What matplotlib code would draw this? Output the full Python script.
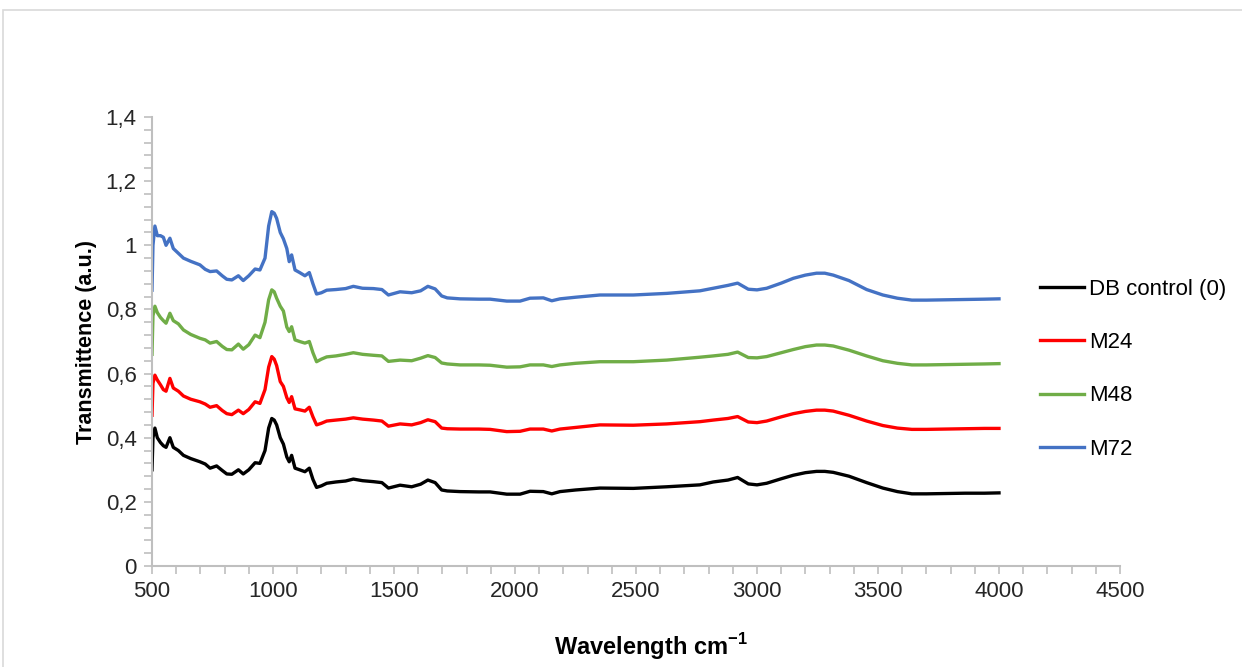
import matplotlib
matplotlib.use("Agg")
import matplotlib.pyplot as plt
from matplotlib.ticker import MultipleLocator, FuncFormatter
from matplotlib.patches import Rectangle

# Datos
wavenumber = [500, 504, 512, 522, 535, 547, 558, 574, 588, 609, 630, 660, 698, 720, 740, 767,
              790, 809, 830, 857, 877, 900, 926, 946, 967, 982, 995, 1005, 1015, 1030, 1043,
              1057, 1067, 1077, 1091, 1110, 1132, 1150, 1165, 1180, 1200, 1222, 1260, 1300,
              1332, 1370, 1415, 1450, 1477, 1525, 1573, 1610, 1640, 1670, 1697, 1720, 1773,
              1850, 1897, 1966, 2021, 2062, 2117, 2152, 2186, 2250, 2351, 2489, 2627, 2764,
              2819, 2880, 2920, 2964, 3000, 3040, 3100, 3150, 3200, 3246, 3280, 3315, 3380,
              3453, 3520, 3580, 3640, 3700, 3780, 3860, 3940, 4000]

db_control = [0.30, 0.40, 0.43, 0.40, 0.385, 0.375, 0.37, 0.40, 0.37, 0.36, 0.345, 0.335, 0.325,
              0.318, 0.305, 0.312, 0.298, 0.287, 0.286, 0.300, 0.287, 0.300, 0.322, 0.320, 0.36,
              0.43, 0.46, 0.455, 0.44, 0.40, 0.38, 0.34, 0.325, 0.345, 0.305, 0.30, 0.294, 0.305,
              0.27, 0.245, 0.25, 0.258, 0.262, 0.265, 0.271, 0.266, 0.263, 0.26, 0.243, 0.252,
              0.247, 0.255, 0.268, 0.26, 0.237, 0.234, 0.232, 0.231, 0.231, 0.224, 0.224, 0.233,
              0.232, 0.225, 0.232, 0.237, 0.243, 0.242, 0.247, 0.253, 0.262, 0.268, 0.276, 0.256,
              0.253, 0.258, 0.272, 0.283, 0.291, 0.295, 0.295, 0.292, 0.28, 0.26, 0.243, 0.232,
              0.225, 0.225, 0.226, 0.227, 0.227, 0.228]

m24 = [0.47, 0.57, 0.595, 0.58, 0.565, 0.55, 0.545, 0.585, 0.555, 0.545, 0.53, 0.52, 0.512,
       0.505, 0.495, 0.50, 0.485, 0.475, 0.472, 0.486, 0.475, 0.488, 0.512, 0.507, 0.55,
       0.62, 0.653, 0.645, 0.625, 0.575, 0.56, 0.525, 0.51, 0.528, 0.49, 0.487, 0.483, 0.495,
       0.465, 0.44, 0.445, 0.452, 0.455, 0.458, 0.462, 0.458, 0.455, 0.452, 0.436, 0.443,
       0.44, 0.447, 0.456, 0.45, 0.43, 0.428, 0.427, 0.427, 0.426, 0.419, 0.42, 0.427,
       0.427, 0.421, 0.427, 0.432, 0.44, 0.439, 0.443, 0.45, 0.455, 0.46, 0.466, 0.449,
       0.447, 0.452, 0.465, 0.475, 0.482, 0.486, 0.486, 0.483, 0.47, 0.452, 0.438, 0.43,
       0.426, 0.426, 0.427, 0.428, 0.429, 0.429]

m48 = [0.66, 0.78, 0.81, 0.79, 0.775, 0.765, 0.757, 0.788, 0.765, 0.755, 0.736, 0.722, 0.71,
       0.705, 0.695, 0.70, 0.685, 0.675, 0.674, 0.692, 0.676, 0.69, 0.72, 0.712, 0.76,
       0.83, 0.861, 0.855, 0.835, 0.81, 0.795, 0.745, 0.731, 0.746, 0.705, 0.70, 0.695, 0.70,
       0.665, 0.637, 0.645, 0.652, 0.655, 0.66, 0.665, 0.66, 0.657, 0.655, 0.638, 0.642,
       0.64, 0.648, 0.656, 0.65, 0.633, 0.63, 0.627, 0.627, 0.626, 0.62, 0.621, 0.627,
       0.627, 0.622, 0.627, 0.632, 0.637, 0.637, 0.642, 0.651, 0.655, 0.66, 0.667, 0.65,
       0.649, 0.653, 0.665, 0.675, 0.684, 0.689, 0.689, 0.686, 0.673, 0.655, 0.64, 0.632,
       0.627, 0.627, 0.628, 0.629, 0.63, 0.631]

m72 = [0.86, 1.00, 1.06, 1.03, 1.03, 1.025, 1.00, 1.022, 0.99, 0.975, 0.96, 0.95, 0.939,
       0.925, 0.918, 0.92, 0.905, 0.894, 0.892, 0.905, 0.89, 0.905, 0.926, 0.923, 0.96,
       1.06, 1.105, 1.10, 1.084, 1.04, 1.02, 0.99, 0.949, 0.97, 0.923, 0.915, 0.905, 0.915,
       0.88, 0.848, 0.852, 0.86, 0.862, 0.865, 0.872, 0.866, 0.865, 0.862, 0.845, 0.855,
       0.852, 0.858, 0.872, 0.864, 0.842, 0.836, 0.833, 0.832, 0.832, 0.826, 0.826, 0.835,
       0.836, 0.827, 0.833, 0.838, 0.845, 0.845, 0.85, 0.858, 0.866, 0.875, 0.882, 0.863,
       0.861, 0.866, 0.882, 0.897, 0.907, 0.913, 0.913, 0.907, 0.89, 0.862, 0.845, 0.835,
       0.829, 0.829, 0.83, 0.831, 0.832, 0.833]

series = [("DB control (0)", db_control, "black"),
          ("M24", m24, "#ff0000"),
          ("M48", m48, "#70ad47"),
          ("M72", m72, "#4472c4")]

plt.rcParams["font.family"] = ["Liberation Sans", "DejaVu Sans"]

fig = plt.figure(figsize=(12.42, 6.67), dpi=100)
ax = fig.add_axes([152 / 1242, 1 - 566 / 667, 968 / 1242, 449 / 667])

for nombre, valores, color in series:
    ax.plot(wavenumber, valores, color=color, linewidth=2.4, label=nombre, solid_joinstyle="round")

ax.set_xlim(500, 4500)
ax.set_ylim(0, 1.4)
ax.xaxis.set_major_locator(MultipleLocator(500))
ax.xaxis.set_minor_locator(MultipleLocator(100))
ax.yaxis.set_major_locator(MultipleLocator(0.2))
ax.yaxis.set_minor_locator(MultipleLocator(0.04))
ax.yaxis.set_major_formatter(FuncFormatter(lambda v, p: ("%g" % round(v, 2)).replace(".", ",")))

for lado in ["top", "right"]:
    ax.spines[lado].set_visible(False)
for lado in ["left", "bottom"]:
    ax.spines[lado].set_color("#bfbfbf")
    ax.spines[lado].set_linewidth(1.5)

ax.tick_params(which="both", direction="out", color="#bfbfbf", width=1.2, length=6)
ax.tick_params(which="major", labelsize=16, labelcolor="#262626", pad=5)

ax.set_xlabel("Wavelength cm$^{\\mathregular{-1}}$", fontsize=17, fontweight="bold")
ax.xaxis.set_label_coords(0.515, -0.145)
ax.set_ylabel("Transmittence (a.u.)", fontsize=15.5, fontweight="bold")
ax.yaxis.set_label_coords(-0.057, 0.5)

fig.legend(loc="upper left", bbox_to_anchor=(1020 / 1242, 1 - 259 / 667), frameon=False,
           fontsize=16, handlelength=2.0, handletextpad=0.2, labelspacing=1.45)

# marco gris del area del grafico
fig.patches.append(Rectangle((3 / 1242, -0.05), 1.1, 1.05 - 10 / 667, transform=fig.transFigure,
                             fill=False, edgecolor="#d9d9d9", linewidth=1.2))

fig.savefig("out.png", dpi=100)
